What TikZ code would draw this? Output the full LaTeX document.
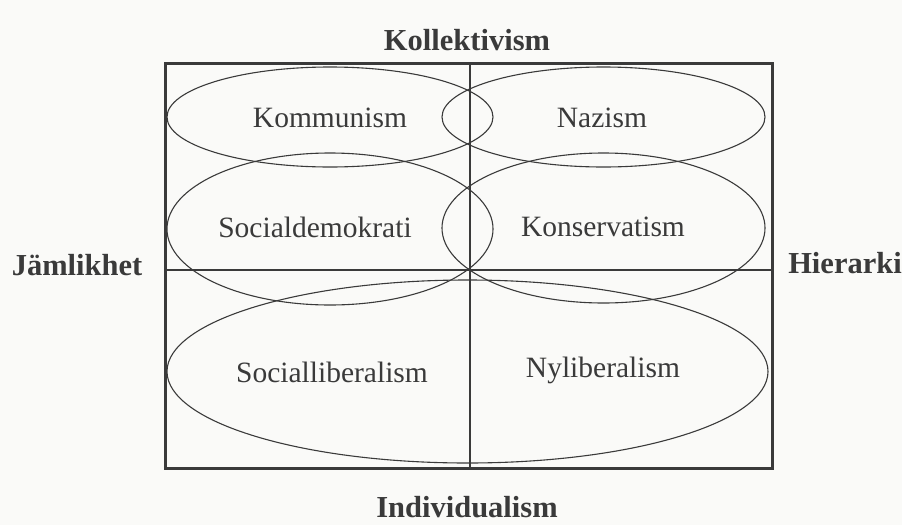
\documentclass[tikz,border=0pt]{standalone}
\usepackage{fontspec}
\setmainfont{Liberation Serif}
\usetikzlibrary{shapes.geometric}
\definecolor{ink}{HTML}{3A3A3A}
\definecolor{paper}{HTML}{FAFAF8}
\begin{document}
\begin{tikzpicture}[x=1pt,y=-1pt,
  oval/.style={ellipse, draw=ink, line width=1.1pt, inner sep=0pt, outer sep=0pt,
    text=ink, font=\fontsize{29.5}{32}\selectfont},
  lbl/.style={text=ink, font=\fontsize{29.5}{32}\selectfont, inner sep=0pt},
  axislabel/.style={text=ink, font=\bfseries\fontsize{30.5}{34}\selectfont, inner sep=0pt},
  frame/.style={draw=ink, line width=3pt, inner sep=0pt, outer sep=0pt},
  axis/.style={draw=ink, line width=1.6pt}]
\fill[paper] (0,0) rectangle (902,525);
\useasboundingbox (0,0) rectangle (902,525);
% frame
\node[frame, minimum width=607pt, minimum height=405pt] (box) at (468.5,265.5) {};
\coordinate (vt) at (470,63);
\coordinate (vb) at (470,468);
\coordinate (hl) at (165,270);
\coordinate (hr) at (772,270);
\draw[axis] (vt) -- (vb);
\draw[axis] (hl) -- (hr);
% ellipses
\node[oval, minimum width=326pt, minimum height=100pt] (kom) at (330,117) {};
\node[oval, minimum width=323pt, minimum height=100pt] (naz) at (603.5,117) {};
\node[oval, minimum width=326pt, minimum height=152pt] (sd) at (330,229) {};
\node[oval, minimum width=323pt, minimum height=150pt] (kons) at (603.5,228) {};
\node[oval, minimum width=601pt, minimum height=183pt] (lib) at (467.5,371.5) {};
\node[lbl] (komt) at (330,118) {Kommunism};
\node[lbl] (nazt) at (602,118) {Nazism};
\node[lbl] (sdt) at (315,227) {Socialdemokrati};
\node[lbl] (konst) at (603,227) {Konservatism};
\node[lbl] (slt) at (332,372) {Socialliberalism};
\node[lbl] (nlt) at (603,370) {Nyliberalism};
% axis labels
\node[axislabel] (kol) at (467,40) {Kollektivism};
\node[axislabel] (ind) at (467,507) {Individualism};
\node[axislabel] (jam) at (77,265) {Jämlikhet};
\node[axislabel] (hie) at (845,263) {Hierarki};
\end{tikzpicture}
\end{document}
